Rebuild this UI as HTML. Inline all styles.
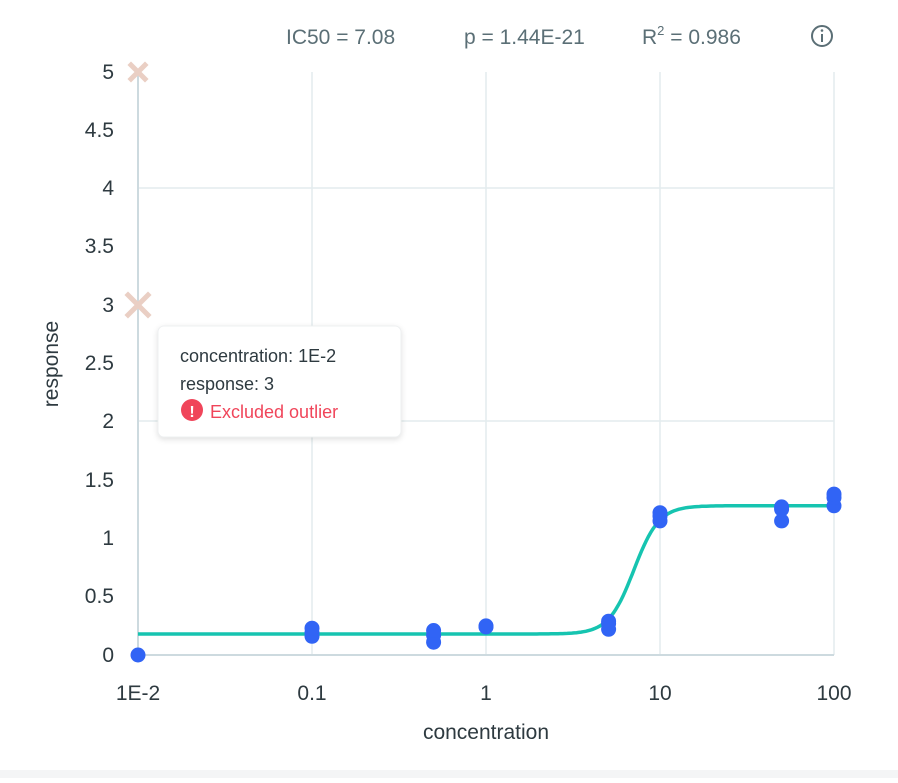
<!DOCTYPE html>
<html><head><style>
body{margin:0;background:#fff;width:898px;height:778px;overflow:hidden;font-family:"Liberation Sans",sans-serif;}
</style></head><body>
<svg width="898" height="778" xmlns="http://www.w3.org/2000/svg" font-family="Liberation Sans, sans-serif">
<rect x="0" y="770" width="898" height="8" fill="#f4f5f6"/>
<g fill="#5b6f76" font-size="21">
<text x="286" y="44">IC50 = 7.08</text>
<text x="464" y="44">p = 1.44E-21</text>
<text x="642" y="44">R<tspan font-size="13" dy="-9">2</tspan><tspan dy="9"> = 0.986</tspan></text>
</g>
<circle cx="822" cy="36" r="10" fill="none" stroke="#5b6f76" stroke-width="2"/>
<rect x="821" y="34" width="2" height="8" fill="#5b6f76"/><circle cx="822" cy="30.5" r="1.3" fill="#5b6f76"/>
<g stroke="#e3ecee" stroke-width="1.5">
<line x1="312" y1="72" x2="312" y2="655"/><line x1="486" y1="72" x2="486" y2="655"/>
<line x1="660" y1="72" x2="660" y2="655"/><line x1="834" y1="72" x2="834" y2="655"/>
<line x1="138" y1="188" x2="834" y2="188"/><line x1="138" y1="421" x2="834" y2="421"/>
</g>
<g stroke="#cddadf" stroke-width="2"><line x1="138" y1="72" x2="138" y2="656"/><line x1="137" y1="655" x2="834" y2="655"/></g>
<g fill="#2e3a40" font-size="21" text-anchor="end">
<text x="114" y="79">5</text><text x="114" y="137">4.5</text><text x="114" y="195">4</text><text x="114" y="253">3.5</text>
<text x="114" y="312">3</text><text x="114" y="370">2.5</text><text x="114" y="428">2</text><text x="114" y="487">1.5</text>
<text x="114" y="545">1</text><text x="114" y="603">0.5</text><text x="114" y="662">0</text>
</g>
<g fill="#2e3a40" font-size="21" text-anchor="middle">
<text x="138" y="700">1E-2</text><text x="312" y="700">0.1</text><text x="486" y="700">1</text><text x="660" y="700">10</text><text x="834" y="700">100</text>
<text x="486" y="739">concentration</text>
<text transform="translate(58 364) rotate(-90)">response</text>
</g>
<path id="curve" fill="none" stroke="#16c4b0" stroke-width="3.5"/>
<g fill="#3164f5">
<circle cx="138" cy="655" r="7.5"/>
<circle cx="312" cy="636.3" r="7.5"/><circle cx="312" cy="632.8" r="7.5"/><circle cx="312" cy="628.2" r="7.5"/>
<circle cx="433.6" cy="642.2" r="7.5"/><circle cx="433.6" cy="635.2" r="7.5"/><circle cx="433.6" cy="630.5" r="7.5"/>
<circle cx="486" cy="625.9" r="7.5"/><circle cx="486" cy="627" r="7.5"/>
<circle cx="608.6" cy="629.3" r="7.5"/><circle cx="608.6" cy="623.5" r="7.5"/><circle cx="608.6" cy="621.2" r="7.5"/>
<circle cx="660" cy="520.9" r="7.5"/><circle cx="660" cy="516.3" r="7.5"/><circle cx="660" cy="512.7" r="7.5"/>
<circle cx="781.6" cy="520.9" r="7.5"/><circle cx="781.6" cy="509.2" r="7.5"/><circle cx="781.6" cy="506.9" r="7.5"/>
<circle cx="834" cy="505.8" r="7.5"/><circle cx="834" cy="497.6" r="7.5"/><circle cx="834" cy="494.1" r="7.5"/>
</g>
<g stroke="#eacfc4" stroke-width="5" stroke-linecap="square">
<path d="M131 65L145 79M145 65L131 79"/>
<path d="M128 295L148 315M148 295L128 315"/>
</g>
<rect x="158" y="326" width="243" height="111" rx="6" fill="#fff" stroke="#eef0f1" style="filter:drop-shadow(0 2px 3px rgba(0,0,0,0.12))"/>
<g font-size="18">
<text x="180" y="362" fill="#2e3a40">concentration: 1E-2</text>
<text x="180" y="390" fill="#2e3a40">response: 3</text>
<circle cx="192" cy="410" r="11" fill="#f0455a"/>
<text x="192" y="417" fill="#fff" font-size="16" font-weight="bold" text-anchor="middle">!</text>
<text x="210" y="418" fill="#f0455a">Excluded outlier</text>
</g>
<script>
var X=function(c){return 138+174*(Math.log10(c)+2)},Y=function(r){return 655-116.6*r};
var d="";for(var i=0;i<=300;i++){var lc=-2+4*i/300,c=Math.pow(10,lc);var r=0.18+(1.28-0.18)/(1+Math.pow(7.08/c,6));d+=(i?"L":"M")+X(c).toFixed(1)+" "+Y(r).toFixed(1);}
document.getElementById("curve").setAttribute("d",d);
</script>
</svg>
</body></html>
